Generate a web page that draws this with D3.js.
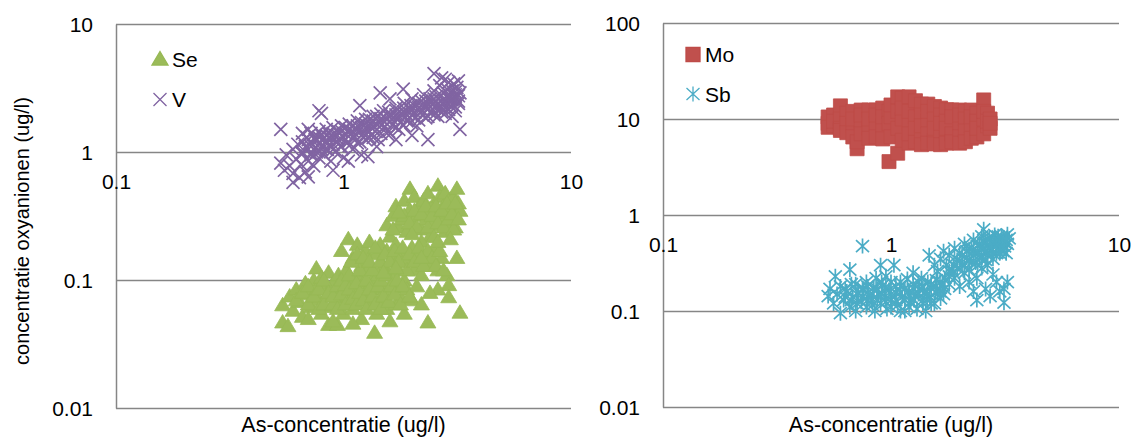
<!DOCTYPE html>
<html><head><meta charset="utf-8">
<script src="https://cdn.jsdelivr.net/npm/d3@7/dist/d3.min.js"></script>
<style>
body{margin:0;background:#fff}
svg text{font-family:"Liberation Sans",Arial,sans-serif;fill:#000}
</style>
</head><body>
<svg id="chart" width="1137" height="438"></svg>
<script>
const xTicks = [0.1, 1, 10];
const yTicksLeft = [0.01, 0.1, 1, 10];
const yTicksRight = [0.01, 0.1, 1, 10, 100];
const seriesLeft = ["Se", "V"];
const seriesRight = ["Mo", "Sb"];
const xTitle = "As-concentratie (ug/l)";
const yTitle = "concentratie oxyanionen (ug/l)";

// [As, concentration] pairs
const sePoints = [
[1.55,0.27],[1.6,0.22],[1.65,0.32],[1.7,0.38],[1.75,0.26],[1.8,0.3],[1.85,0.42],[1.9,0.24],[1.95,0.35],[1.96,0.52],
[2.0,0.28],[2.05,0.45],[2.1,0.32],[2.15,0.38],[2.2,0.25],[2.25,0.42],[2.3,0.3],[2.35,0.48],[2.4,0.36],[2.45,0.27],
[2.5,0.4],[2.55,0.33],[2.6,0.55],[2.65,0.45],[2.7,0.3],[2.75,0.38],[2.8,0.48],[2.85,0.34],[2.9,0.42],[2.95,0.28],
[3.0,0.38],[3.05,0.45],[3.1,0.32],[3.15,0.52],[3.2,0.4],[3.25,0.35],[2.4,0.22],[2.8,0.24],[3.1,0.26],[2.2,0.2],
[1.05,0.21],[0.98,0.17],[1.1,0.15],[1.15,0.19],[1.2,0.13],[1.25,0.17],[1.3,0.2],[1.35,0.12],[1.4,0.16],[1.45,0.19],
[1.5,0.13],[1.55,0.17],[1.6,0.11],[1.65,0.15],[1.7,0.19],[1.75,0.12],[1.8,0.16],[1.85,0.1],[1.9,0.14],[2.0,0.18],
[2.05,0.12],[2.1,0.16],[2.2,0.11],[2.3,0.15],[2.4,0.13],[2.5,0.17],[2.6,0.12],[2.7,0.15],[2.85,0.11],[3.15,0.15],
[2.9,0.092],[2.9,0.074],[2.6,0.085],
[0.54,0.064],[0.54,0.047],[0.57,0.044],[0.58,0.075],[0.6,0.058],[0.62,0.085],[0.64,0.068],[0.66,0.052],[0.68,0.095],[0.7,0.078],
[0.72,0.062],[0.74,0.1],[0.76,0.124],[0.76,0.085],[0.78,0.07],[0.8,0.055],[0.8,0.105],[0.82,0.09],[0.84,0.075],[0.86,0.045],
[0.86,0.115],[0.88,0.062],[0.9,0.095],[0.92,0.08],[0.94,0.045],[0.95,0.11],[0.97,0.068],[1.0,0.088],[1.0,0.055],[1.03,0.12],
[1.05,0.075],[1.08,0.098],[1.1,0.06],[1.12,0.085],[1.15,0.11],[1.18,0.07],[1.2,0.05],[1.22,0.095],[1.25,0.08],[1.28,0.12],
[1.3,0.065],[1.33,0.1],[1.37,0.039],[1.38,0.085],[1.4,0.055],[1.42,0.11],[1.45,0.072],[1.5,0.09],[1.55,0.06],[1.6,0.08],
[1.65,0.1],[1.7,0.065],[1.75,0.088],[1.8,0.072],[1.85,0.055],[1.9,0.085],[2.0,0.07],[2.1,0.09],[2.2,0.065],[2.35,0.047],
[2.4,0.08],[3.25,0.056],[0.7,0.05],[0.9,0.048],[1.1,0.046],[1.6,0.048],
[0.62,0.07],[0.66,0.08],[0.7,0.065],[0.7,0.09],[0.74,0.075],[0.78,0.085],[0.78,0.06],[0.82,0.065],[0.82,0.1],[0.86,0.08],
[0.9,0.065],[0.9,0.075],[0.94,0.09],[0.94,0.06],[0.98,0.1],[0.98,0.078],[1.02,0.065],[1.02,0.092],[1.06,0.085],[1.06,0.11],
[1.1,0.072],[1.14,0.095],[1.14,0.065],[1.18,0.08],[1.18,0.12],[1.22,0.07],[1.26,0.1],[1.26,0.06],[1.3,0.085],[1.34,0.075],
[1.34,0.12],[1.38,0.065],[1.42,0.09],[1.46,0.1],[1.46,0.06],[1.5,0.075],[1.54,0.11],[1.58,0.068],[1.62,0.09],[1.68,0.078],
[1.72,0.1],[1.78,0.065],[1.82,0.09],[1.95,0.075],
[1.08,0.14],[1.15,0.16],[1.22,0.15],[1.3,0.14],[1.38,0.18],[1.45,0.14],[1.52,0.16],[1.6,0.14],[1.68,0.17],[1.75,0.14],
[1.82,0.18],[1.9,0.12],[1.95,0.16],[2.05,0.14],[2.15,0.18],[2.25,0.13],[2.35,0.17],[2.45,0.15],[2.55,0.13],[2.65,0.17],
[2.75,0.12],[2.2,0.15],[1.5,0.115],[1.7,0.125],
[1.85,0.32],[1.95,0.28],[2.05,0.35],[2.1,0.26],[2.2,0.33],[2.3,0.38],[2.35,0.26],[2.45,0.32],[2.5,0.22],[2.55,0.38],
[2.6,0.28],[2.7,0.35],[2.75,0.26],[2.85,0.4],[2.9,0.3],[3.0,0.33],[3.05,0.25],[3.1,0.4],[3.2,0.3],[1.75,0.34],
[2.0,0.23],[2.6,0.2],[2.95,0.21],[1.65,0.25]
];

const vPoints = [
[0.55,0.72],[0.56,0.95],[0.58,0.78],[0.6,1.05],[0.6,0.68],[0.62,0.88],[0.63,1.15],[0.65,0.8],[0.66,0.97],[0.68,1.1],
[0.68,0.7],[0.7,0.85],[0.7,1.25],[0.72,0.95],[0.72,1.1],[0.74,0.78],[0.75,1.3],[0.76,1.0],[0.78,1.15],[0.78,0.9],
[0.8,1.05],[0.8,1.35],[0.82,0.95],[0.84,1.2],[0.85,1.05],[0.86,1.4],[0.88,0.85],[0.9,1.15],[0.9,1.3],[0.92,1.0],
[0.95,1.25],[0.95,1.45],[0.97,1.1],[1.0,1.3],[1.0,0.9],[1.02,1.55],[1.05,1.2],[1.08,1.4],[1.1,1.05],[1.1,1.6],
[1.12,1.3],[1.15,1.5],[1.18,1.2],[1.2,1.7],[1.22,1.4],[1.25,1.55],[1.28,0.92],[1.3,1.3],[1.3,1.8],[1.35,1.6],
[1.38,1.45],[1.4,1.9],[1.42,1.25],[1.45,1.7],[1.5,1.55],[1.5,2.1],[1.55,1.8],[1.58,1.35],[1.6,1.95],[1.65,1.65],
[1.7,2.2],[1.72,1.85],[1.75,1.5],[1.8,2.0],[1.85,2.4],[1.9,1.75],[1.95,2.15],[2.0,1.95],[2.0,2.6],[2.05,2.3],
[2.1,1.6],[2.15,2.1],[2.2,2.5],[2.25,2.8],[2.3,2.2],[2.35,1.9],[2.4,2.6],[2.45,2.35],[2.5,3.0],[2.5,2.1],
[2.55,2.7],[2.6,2.4],[2.65,3.3],[2.7,3.8],[2.7,2.2],[2.75,2.9],[2.8,2.5],[2.85,3.1],[2.9,2.7],[2.95,2.3],
[3.0,3.0],[3.0,2.6],[3.05,3.4],[3.1,2.8],[3.25,1.5],[3.15,3.2],[3.2,2.5],[3.25,2.9],[2.35,1.25],[1.7,1.25],
[1.2,0.95],[0.9,0.72],[0.64,0.63],[0.7,0.64],[0.78,2.1],[0.8,2.0],[0.53,1.5],[1.18,2.3],[1.45,2.9],[1.83,3.1],
[2.9,3.5],[2.6,1.9],[3.2,3.6],[2.0,1.35],[1.4,1.1],[1.05,0.85],[1.6,2.6],[2.5,4.1],[2.8,3.7],[0.53,0.82],
[0.7,1.5],[0.66,1.4],[2.8,2.0],[3.1,2.1],[3.0,1.9],[0.6,0.58],
[0.66,1.0],[0.66,1.2],[0.69,1.08],[0.69,1.3],[0.72,0.98],[0.72,1.18],[0.72,1.4],[0.75,1.08],[0.75,1.25],[0.78,1.0],
[0.78,1.3],[0.78,1.45],[0.81,1.12],[0.81,1.25],[0.84,1.05],[0.84,1.35],[0.84,1.5],[0.87,1.15],[0.87,1.3],[0.9,1.05],
[0.9,1.4],[0.9,1.55],[0.94,1.2],[0.94,1.35],[0.98,1.1],[0.98,1.45],[0.98,1.6],[1.02,1.25],[1.02,1.4],[1.06,1.12],
[1.06,1.5],[1.06,1.65],[1.1,1.3],[1.1,1.45],[1.15,1.18],[1.15,1.6],[1.15,1.75],[1.2,1.35],[1.2,1.55],[1.25,1.25],
[1.25,1.65],[1.25,1.8],[1.3,1.45],[1.3,1.6],[1.35,1.3],[1.35,1.75],[1.35,1.9],[1.4,1.5],[1.4,1.65],[1.46,1.4],
[1.46,1.82],[1.46,1.98],[1.52,1.58],[1.52,1.72],[1.58,1.45],[1.58,1.9],[1.58,2.05],[1.64,1.62],[1.64,1.8],[1.7,1.55],
[1.7,1.95],[1.7,2.1],[1.77,1.7],[1.77,1.88],[1.84,1.62],[1.84,2.05],[1.84,2.2],[1.91,1.78],[1.91,1.95],[1.98,1.7],
[1.98,2.15],[1.98,2.3],[2.06,1.85],[2.06,2.05],[2.14,1.78],[2.14,2.22],[2.14,2.4],[2.22,1.95],[2.22,2.12],[2.3,1.85],
[2.3,2.3],[2.3,2.5],[2.4,2.05],[2.4,2.25],[2.5,1.95],[2.5,2.4],[2.5,2.6],[2.6,2.15],[2.6,2.35],[2.7,2.05],
[2.7,2.5],[2.7,2.75],[2.8,2.25],[2.8,2.45],[2.9,2.15],[2.9,2.6],[2.9,2.85],[3.0,2.35],[3.0,2.55],[3.1,2.25],
[3.1,2.7],[3.1,2.95],[3.2,2.4],[3.2,2.75]
];

const moPoints = [
[0.53,9],[0.53,10.5],[0.53,8.2],[0.56,11],[0.56,8.5],[0.56,9.5],[0.6,13.7],[0.6,10],[0.6,8],[0.6,7.6],
[0.64,11.5],[0.64,9],[0.64,7.2],[0.68,12],[0.68,8.5],[0.68,6.5],[0.68,10],[0.71,4.9],[0.71,5.8],[0.74,12.4],
[0.74,9.5],[0.74,7],[0.74,11],[0.8,12.4],[0.8,8],[0.8,10],[0.8,6.3],[0.86,12.4],[0.86,9],[0.86,6.5],
[0.86,11],[0.92,13],[0.92,8.5],[0.92,10.5],[0.92,6.2],[0.98,3.6],[0.98,12],[0.98,9],[1.0,6.5],[1.0,10.5],
[1.0,14],[1.07,4.4],[1.07,17],[1.07,8],[1.07,12],[1.12,16.5],[1.12,10],[1.12,6],[1.12,13],[1.2,17],
[1.2,9],[1.2,5.6],[1.2,12],[1.2,7],[1.28,15.5],[1.28,10.5],[1.28,5.8],[1.28,8],[1.36,14.3],[1.36,11],
[1.36,6.5],[1.36,8.5],[1.36,5.4],[1.45,14.3],[1.45,9.5],[1.45,7],[1.45,12],[1.45,5.6],[1.55,13.5],[1.55,10],
[1.55,6],[1.55,8],[1.55,5.5],[1.65,13],[1.65,11],[1.65,7.5],[1.65,5.4],[1.65,9],[1.75,12.5],[1.75,9.5],
[1.75,6.2],[1.75,8],[1.75,5.6],[1.85,12.4],[1.85,10.5],[1.85,7],[1.85,5.8],[2.0,12.4],[2.0,9],[2.0,6.5],
[2.0,11],[2.0,5.6],[2.12,12],[2.12,10],[2.12,7.5],[2.12,5.8],[2.25,12.4],[2.25,8.5],[2.25,6.3],[2.25,10.5],
[2.38,11.5],[2.38,9.5],[2.38,6.5],[2.38,8],[2.55,15.8],[2.55,10],[2.55,7],[2.55,12],[2.65,11.5],[2.65,8.5],
[2.65,9.5],[2.72,10],[2.72,8],[2.72,9]
];

const sbPoints = [
[0.53,0.143],[0.54,0.17],[0.56,0.12],[0.57,0.23],[0.58,0.15],[0.6,0.095],[0.6,0.18],[0.62,0.13],[0.64,0.16],[0.66,0.27],
[0.66,0.11],[0.68,0.14],[0.7,0.19],[0.7,0.1],[0.72,0.155],[0.74,0.125],[0.75,0.475],[0.76,0.17],[0.78,0.2],[0.78,0.11],
[0.8,0.145],[0.82,0.13],[0.84,0.175],[0.85,0.1],[0.86,0.22],[0.88,0.15],[0.9,0.12],[0.9,0.3],[0.92,0.185],[0.94,0.14],
[0.96,0.105],[0.98,0.165],[1.0,0.2],[1.0,0.13],[1.03,0.3],[1.05,0.155],[1.07,0.115],[1.1,0.18],[1.12,0.14],[1.15,0.1],
[1.18,0.215],[1.2,0.16],[1.22,0.125],[1.25,0.19],[1.28,0.145],[1.3,0.105],[1.33,0.17],[1.36,0.22],[1.38,0.13],[1.4,0.155],
[1.42,0.1],[1.45,0.2],[1.48,0.14],[1.5,0.175],[1.55,0.12],[1.58,0.21],[1.6,0.16],[1.65,0.135],[1.68,0.19],[1.7,0.15],
[1.1,0.1],[0.95,0.23],[1.25,0.25],
[1.47,0.38],[1.55,0.3],[1.6,0.26],[1.65,0.35],[1.7,0.42],[1.75,0.3],[1.8,0.38],[1.85,0.27],[1.9,0.45],[1.95,0.34],
[2.0,0.4],[2.05,0.3],[2.1,0.5],[2.15,0.36],[2.2,0.44],[2.25,0.32],[2.3,0.55],[2.35,0.4],[2.4,0.48],[2.45,0.36],
[2.5,0.6],[2.55,0.71],[2.55,0.45],[2.6,0.52],[2.65,0.38],[2.7,0.58],[2.75,0.44],[2.8,0.5],[2.85,0.62],[2.9,0.4],
[2.95,0.55],[3.0,0.47],[3.05,0.6],[3.1,0.42],[3.15,0.52],[3.24,0.63],[3.24,0.5],[3.2,0.4],[3.3,0.57],
[1.9,0.22],[2.0,0.18],[2.1,0.25],[2.2,0.2],[2.38,0.22],[2.38,0.13],[2.5,0.28],[2.6,0.17],[2.72,0.143],[2.8,0.24],
[2.9,0.2],[3.0,0.16],[3.13,0.17],[3.13,0.122],[3.24,0.2],[2.3,0.16],[1.8,0.23],[2.65,0.3],
[0.63,0.14],[0.63,0.17],[0.67,0.13],[0.67,0.19],[0.71,0.15],[0.71,0.12],[0.75,0.17],[0.75,0.14],[0.79,0.13],[0.79,0.18],
[0.83,0.15],[0.83,0.115],[0.87,0.17],[0.87,0.13],[0.91,0.15],[0.91,0.2],[0.95,0.125],[0.95,0.17],[1.0,0.15],[1.0,0.11],
[1.05,0.18],[1.05,0.13],[1.1,0.155],[1.1,0.2],[1.15,0.13],[1.15,0.17],[1.2,0.15],[1.2,0.11],[1.26,0.17],[1.26,0.13],
[1.32,0.15],[1.32,0.2],[1.38,0.12],[1.38,0.175],[1.44,0.15],[1.44,0.13],[1.5,0.19],[1.5,0.12],[1.57,0.155],[1.57,0.18],
[1.64,0.16],[1.64,0.2],[1.72,0.17],[1.72,0.22],[1.8,0.19],[1.8,0.26],[1.88,0.25],[1.88,0.3],
[1.95,0.28],[2.0,0.33],[2.05,0.38],[2.1,0.3],[2.15,0.42],[2.2,0.34],[2.25,0.46],[2.3,0.38],[2.35,0.32],[2.4,0.42],
[2.45,0.5],[2.5,0.36],[2.55,0.52],[2.6,0.42],[2.65,0.56],[2.7,0.45],[2.75,0.52],[2.8,0.4],[2.85,0.55],[2.9,0.48],
[2.95,0.6],[3.0,0.52],[3.05,0.45],[3.1,0.56],[3.15,0.47],[3.2,0.55],[2.2,0.27],[2.4,0.3],[2.6,0.34],[2.8,0.35],
[3.0,0.4]
];

const GRID = "#868686";
const FS = 21;
const markers = {
  Se: {path:"M0,-7.5L8,6L-8,6Z", fill:"#9BBB59", stroke:"#97B954", sw:0.8},
  V:  {path:"M-6.5,-6.5L6.5,6.5M-6.5,6.5L6.5,-6.5", fill:"none", stroke:"#8064A2", sw:1.7},
  Mo: {path:"M-7,-7H7V7H-7Z", fill:"#C0504D", stroke:"#BE4B48", sw:0.8},
  Sb: {path:"M-6.5,-6L6.5,6M-6.5,6L6.5,-6M0,-7.5V7.5", fill:"none", stroke:"#4BACC6", sw:1.7}
};

const svg = d3.select("#chart");

function panel(cfg) {
  const x = d3.scaleLog().domain([0.1, 10]).range([cfg.x0, cfg.x1]);
  const y = d3.scaleLog().domain(cfg.yDomain).range([cfg.y0, cfg.y1]);
  const g = svg.append("g");

  const ya = g.append("g").attr("transform", `translate(${cfg.x0},0)`)
    .call(d3.axisLeft(y).tickValues(cfg.yTicks).tickSize(-(cfg.x1 - cfg.x0)).tickSizeOuter(0)
      .tickPadding(23).tickFormat(d => String(d)));
  ya.selectAll("line").attr("stroke", GRID).attr("stroke-width", 1.5);
  ya.select(".domain").attr("stroke", GRID).attr("stroke-width", 1.5);
  ya.selectAll("text").attr("font-size", FS).attr("dy", "0.36em");

  const xa = g.append("g").attr("transform", `translate(0,${y(1)})`)
    .call(d3.axisBottom(x).tickValues(xTicks).tickSize(0).tickPadding(22).tickFormat(d => String(d)));
  xa.select(".domain").remove();
  xa.selectAll("text").attr("font-size", FS);

  g.append("text").attr("x", (cfg.x0 + cfg.x1) / 2).attr("y", 432)
    .attr("text-anchor", "middle").attr("font-size", 21.5).text(xTitle);

  cfg.series.forEach(s => {
    const m = markers[s.name];
    g.append("g").selectAll("path").data(s.data).join("path")
      .attr("transform", d => `translate(${x(d[0])},${y(d[1])})`)
      .attr("d", m.path).attr("fill", m.fill).attr("stroke", m.stroke).attr("stroke-width", m.sw);
  });

  cfg.series.forEach((s, i) => {
    const m = markers[s.name];
    const ly = cfg.legY[i];
    g.append("path").attr("transform", `translate(${cfg.legX},${ly})`)
      .attr("d", m.path).attr("fill", m.fill).attr("stroke", m.stroke).attr("stroke-width", 1.3);
    g.append("text").attr("x", cfg.legX + 12).attr("y", ly).attr("dy", "0.36em")
      .attr("font-size", FS).text(s.name);
  });
}

panel({x0:116, x1:571, y0:408, y1:24, yDomain:[0.01,10], yTicks:yTicksLeft,
  legX:160, legY:[59, 99.5],
  series:[{name:seriesLeft[0], data:sePoints},{name:seriesLeft[1], data:vPoints}]});
panel({x0:663, x1:1119, y0:407, y1:23, yDomain:[0.01,100], yTicks:yTicksRight,
  legX:693, legY:[54.5, 94],
  series:[{name:seriesRight[0], data:moPoints},{name:seriesRight[1], data:sbPoints}]});

svg.append("text").attr("transform", "translate(22,231) rotate(-90)")
  .attr("text-anchor", "middle").attr("dy", "0.36em").attr("font-size", 20).text(yTitle);
</script>
</body></html>
